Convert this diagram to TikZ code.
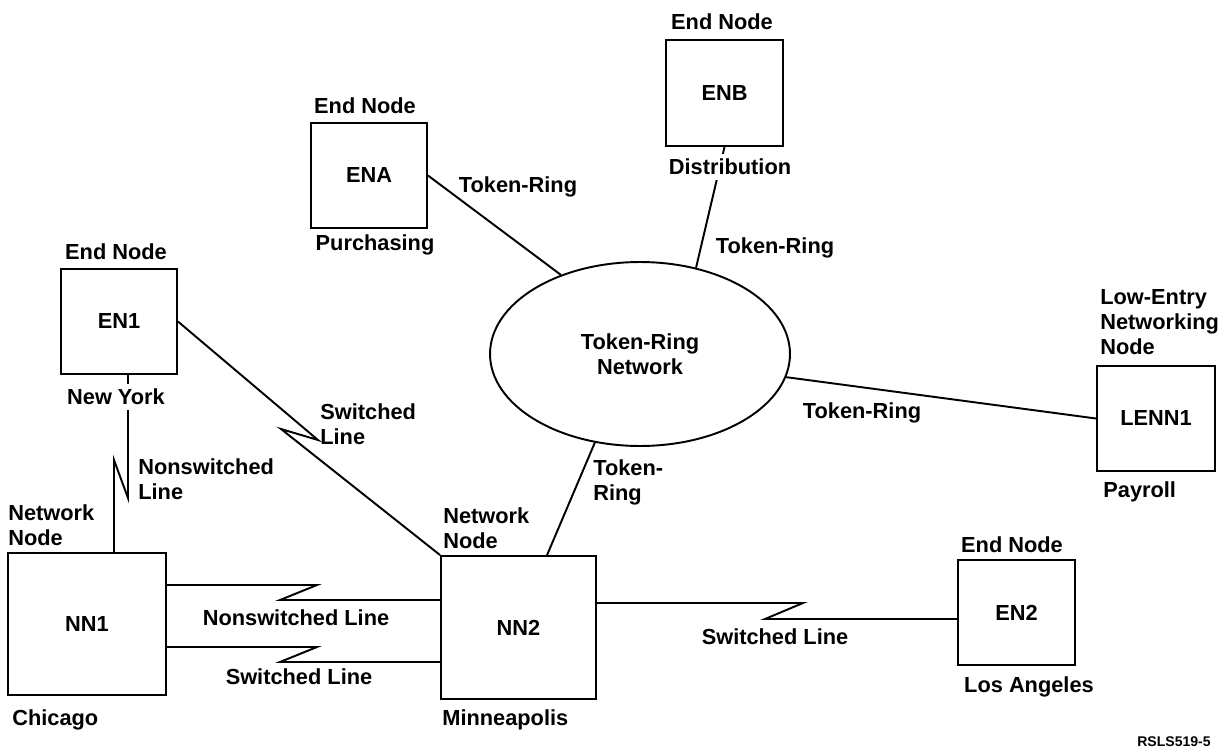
\documentclass[tikz,border=0pt]{standalone}
\usepackage{fontspec}
\setmainfont{Liberation Sans}
\usetikzlibrary{shapes.geometric,calc}
\begin{document}
\begin{tikzpicture}[x=0.02cm,y=-0.02cm,
  every node/.style={font=\fontsize{12.4}{14.2}\selectfont\bfseries, inner sep=0pt},
  box/.style={draw, line width=1.1pt, minimum width=2.32cm, minimum height=2.1cm},
  bigbox/.style={draw, line width=1.1pt, minimum width=3.14cm, minimum height=2.85cm},
  ring/.style={draw, ellipse, line width=1.1pt, minimum width=6cm, minimum height=3.68cm, align=center},
  link/.style={line width=1.1pt, line join=miter},
  lbl/.style={align=left},
  gap/.style={fill=white, inner sep=3pt},
  tag/.style={font=\fontsize{8}{9}\selectfont\bfseries}
]
% page frame
\path[use as bounding box, fill=white] (0,0) rectangle (1230,753);

% nodes of the network
\node[box] (ENA) at (369,175.5) {ENA};
\node[box, minimum width=2.34cm, minimum height=2.12cm] (ENB) at (724.5,93) {ENB};
\node[box] (EN1) at (119,321.5) {EN1};
\node[box, minimum width=2.36cm] (LENN1) at (1156,418.5) {LENN1};
\node[bigbox, minimum width=3.16cm, minimum height=2.84cm] (NN1) at (87,624) {NN1};
\node[bigbox, minimum width=3.1cm, minimum height=2.86cm] (NN2) at (518.5,627.5) {NN2};
\node[box, minimum width=2.34cm] (EN2) at (1016.5,612.5) {EN2};
\node[ring] (TR) at (640,354) {Token-Ring\\Network};

% token-ring attachments
\draw[link] (ENA.east) -- (TR.135);
\draw[link] (ENB.south) -- (TR.57);
\draw[link] (TR.-9) -- (LENN1.west);
\draw[link] ($(NN2.north west)+(107,0)$) -- (TR.243);

% switched line New York - Minneapolis
\coordinate (swA) at (318,440);
\coordinate (swB) at (281,429);
\draw[link] (EN1.east) -- (swA) -- (swB) -- (NN2.north west);

% nonswitched line New York - Chicago
\coordinate (nsA) at (128,498);
\coordinate (nsB) at (114,460);
\draw[link] ($(EN1.south)+(9,0)$) -- (nsA) -- (nsB) -- (nsB |- NN1.north);

% Chicago - Minneapolis lines
\coordinate (cmA) at (317,585);
\coordinate (cmB) at (280,600);
\draw[link] (cmA -| NN1.east) -- (cmA) -- (cmB) -- (cmB -| NN2.west);
\coordinate (csA) at (317,647);
\coordinate (csB) at (280,662);
\draw[link] (csA -| NN1.east) -- (csA) -- (csB) -- (csB -| NN2.west);

% Minneapolis - Los Angeles
\coordinate (mlA) at (803,603);
\coordinate (mlB) at (765,619);
\draw[link] (mlA -| NN2.east) -- (mlA) -- (mlB) -- (mlB -| EN2.west);

% captions
\node (ENAt) at (365,106) {End Node};
\node (ENAb) at (375,245) {Purchasing};
\node (ENBt) at (722,22) {End Node};
\node[gap] (ENBb) at (730,167) {Distribution};
\node (EN1t) at (116,252) {End Node};
\node[gap] (EN1b) at (116,397) {New York};
\node[lbl, anchor=west] (nsw1) at (138,479.5) {Nonswitched\\Line};
\node[lbl, anchor=west] (NN1t) at (8,525) {Network\\Node};
\node[anchor=west] (NN1b) at (12,720) {Chicago};
\node[lbl, anchor=west] (NN2t) at (443,528) {Network\\Node};
\node[anchor=west] (NN2b) at (442,720) {Minneapolis};
\node[lbl, anchor=west] (trNN2) at (593,482.5) {Token-\\Ring};
\node[lbl, anchor=west] (sw1) at (320,424.5) {Switched\\Line};
\node (nsw2) at (296,618) {Nonswitched Line};
\node (sw2) at (299,677) {Switched Line};
\node (sw3) at (775,637) {Switched Line};
\node (EN2t) at (1012,545) {End Node};
\node (EN2b) at (1029,687) {Los Angeles};
\node (trA) at (518,187) {Token-Ring};
\node (trB) at (775,248) {Token-Ring};
\node (trL) at (862,413) {Token-Ring};
\node[lbl, anchor=west] (LENNt) at (1100,322) {Low-Entry\\Networking\\Node};
\node[anchor=west] (LENNb) at (1103,492) {Payroll};
\node[tag] (fig) at (1174,742) {RSLS519-5};
\end{tikzpicture}
\end{document}
